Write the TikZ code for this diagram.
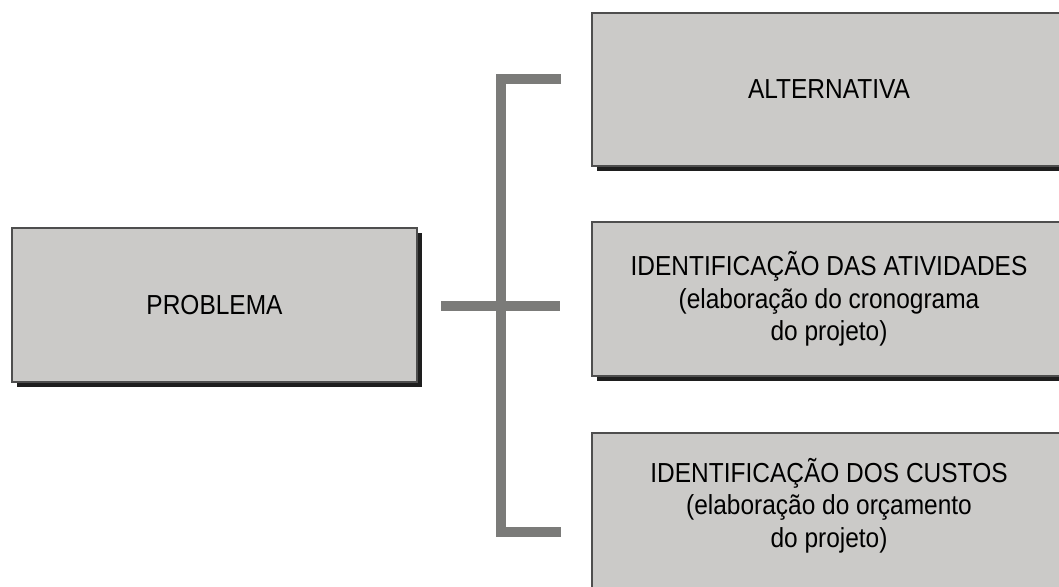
\documentclass[tikz,border=0pt]{standalone}
\usepackage{fontspec}
\setmainfont{Liberation Sans}[FakeStretch=0.89]
\usetikzlibrary{shadows}
\definecolor{boxfill}{HTML}{CBCAC8}
\definecolor{boxline}{HTML}{4E4E4E}
\definecolor{bracket}{HTML}{7B7B79}
\definecolor{shade}{HTML}{1E1E1E}
\tikzset{
  boxstyle/.style={rectangle, draw=boxline, line width=1.3pt, fill=boxfill,
    minimum height=154pt, align=center, inner sep=0pt,
    font=\fontsize{27.5}{32.5}\selectfont,
    general shadow={shadow xshift=5pt, shadow yshift=-5pt, fill=shade, draw=none}},
  labelstyle/.style={align=center, inner sep=0pt, font=\fontsize{27.5}{32.5}\selectfont},
  bracketline/.style={draw=bracket, line width=10pt, line join=miter, line cap=butt}
}
\begin{document}
\begin{tikzpicture}[x=1pt,y=-1pt]
\useasboundingbox (0,0) rectangle (1059,586);
\begin{scope}
\clip (0,0) rectangle (1059,586);
\node[boxstyle, minimum width=405pt] (prob) at (214.5,305) {PROBLEMA};
\node[boxstyle, minimum width=474pt, minimum height=153pt] (alt) at (829,89.5) {ALTERNATIVA};
\node[boxstyle, minimum width=474pt] (ativ) at (829,299) {IDENTIFICAÇÃO DAS ATIVIDADES\\(elaboração do cronograma\\do projeto)};
\node[boxstyle, minimum width=474pt, minimum height=166pt] (cust) at (829,516) {};
\node[labelstyle] (custlabel) at (829,505.5) {IDENTIFICAÇÃO DOS CUSTOS\\(elaboração do orçamento\\do projeto)};
\end{scope}
\coordinate (pout) at (441,306);
\coordinate (mid) at (560,306);
\coordinate (ta) at (561,79);
\coordinate (tc) at (501,79);
\coordinate (bc) at (501,532);
\coordinate (ba) at (561,532);
\draw[bracketline] (ta) -- (tc) -- (bc) -- (ba);
\draw[bracketline] (pout) -- (mid);
\end{tikzpicture}
\end{document}
